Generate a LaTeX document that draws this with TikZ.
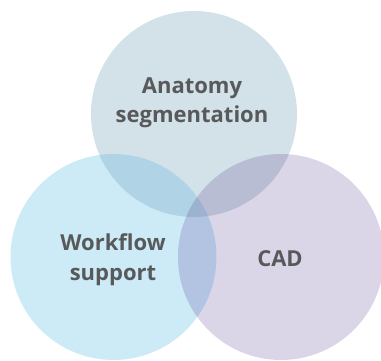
\documentclass[tikz,border=0pt]{standalone}
\usepackage{fontspec}
\setmainfont{Open Sans}
\definecolor{ctop}{HTML}{D3E2E8}
\definecolor{cleft}{HTML}{CCEBF7}
\definecolor{cright}{HTML}{DAD6E8}
\definecolor{ctl}{HTML}{B0D4E6}
\definecolor{ctr}{HTML}{B8BDD4}
\definecolor{clr}{HTML}{B3C4E2}
\definecolor{call}{HTML}{9DB2CF}
\definecolor{txt}{HTML}{58595B}
\begin{document}
\begin{tikzpicture}[x=1pt,y=-1pt,
  lbl/.style={text=txt,font=\fontsize{22}{29.5}\selectfont\bfseries,align=center,inner sep=0pt,anchor=base}]
\useasboundingbox (0,0) rectangle (381,361);
\coordinate (ct) at (194,114);
\coordinate (cl) at (113.5,257);
\coordinate (cr) at (281,257);
\def\rr{103}
\fill[ctop] (ct) circle[radius=\rr];
\fill[cleft] (cl) circle[radius=\rr];
\fill[cright] (cr) circle[radius=\rr];
\begin{scope}\clip (ct) circle[radius=\rr]; \fill[ctl] (cl) circle[radius=\rr]; \end{scope}
\begin{scope}\clip (ct) circle[radius=\rr]; \fill[ctr] (cr) circle[radius=\rr]; \end{scope}
\begin{scope}\clip (cl) circle[radius=\rr]; \fill[clr] (cr) circle[radius=\rr]; \end{scope}
\begin{scope}\clip (ct) circle[radius=\rr]; \clip (cl) circle[radius=\rr]; \fill[call] (cr) circle[radius=\rr]; \end{scope}
\node[lbl] (anat) at (192,123) {Anatomy\\segmentation};
\node[lbl] (work) at (113,280) {Workflow\\support};
\node[lbl] (cad) at (280,266) {CAD};
\end{tikzpicture}
\end{document}
